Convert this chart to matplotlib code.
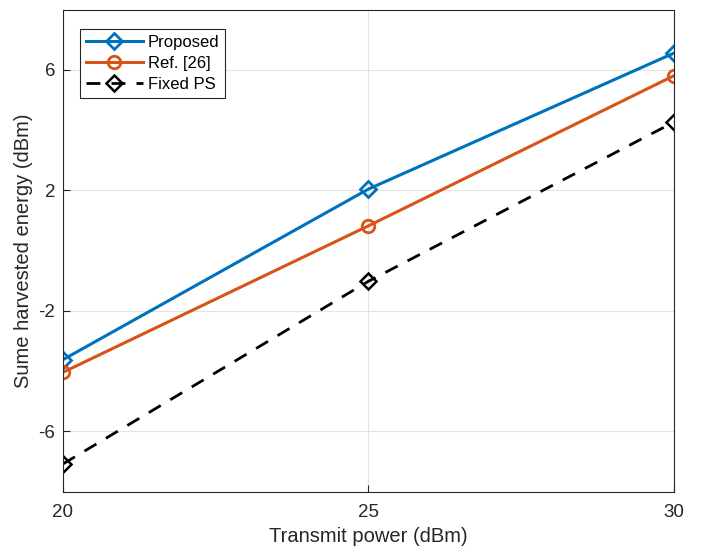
import matplotlib.pyplot as plt

plt.rcParams["font.family"] = ["Liberation Sans", "DejaVu Sans"]
plt.rcParams["axes.unicode_minus"] = False

# Data
power = [20, 25, 30]
proposed = [-3.62, 2.04, 6.55]
ref26 = [-4.04, 0.82, 5.80]
fixed_ps = [-7.08, -1.02, 4.26]

fig = plt.figure(figsize=(7.1, 5.46), dpi=100)
ax = fig.add_axes([0.0887, 0.0995, 0.8602, 0.8831])

ax.plot(power, proposed, color="#0072BD", linewidth=2.2, marker="D",
        markersize=8.5, markerfacecolor="none", markeredgewidth=2,
        label="Proposed")
ax.plot(power, ref26, color="#D95319", linewidth=2.2, marker="o",
        markersize=9, markerfacecolor="none", markeredgewidth=2,
        label="Ref. [26]")
ax.plot(power, fixed_ps, color="black", linewidth=2, linestyle=(0, (5, 4)),
        marker="D", markersize=8.5, markerfacecolor="none",
        markeredgewidth=1.8, label="Fixed PS")

ax.set_xlim(20, 30)
ax.set_ylim(-8, 8)
ax.set_xticks([20, 25, 30])
ax.set_yticks([-6, -2, 2, 6])
ax.grid(True, color="#E3E3E3", linewidth=0.8)
ax.set_axisbelow(True)
ax.tick_params(direction="in", labelsize=13.5, colors="#262626", length=5)
ax.tick_params(axis="x", pad=9)
ax.tick_params(axis="y", pad=5.5)
for s in ax.spines.values():
    s.set_color("#262626")
    s.set_linewidth(0.8)

ax.set_xlabel("Transmit power (dBm)", fontsize=14.5, color="#262626",
              labelpad=4)
ax.set_ylabel("Sume harvested energy (dBm)", fontsize=14.5, color="#262626",
              labelpad=4)

leg = ax.legend(loc="upper left", bbox_to_anchor=(0.028, 0.96),
                fontsize=12, handlelength=3.4, handletextpad=0.3,
                borderpad=0.35, labelspacing=0.38, fancybox=False,
                framealpha=1, borderaxespad=0)
leg.get_frame().set_edgecolor("#262626")
leg.get_frame().set_linewidth(0.8)

fig.savefig("out.png", dpi=100)
